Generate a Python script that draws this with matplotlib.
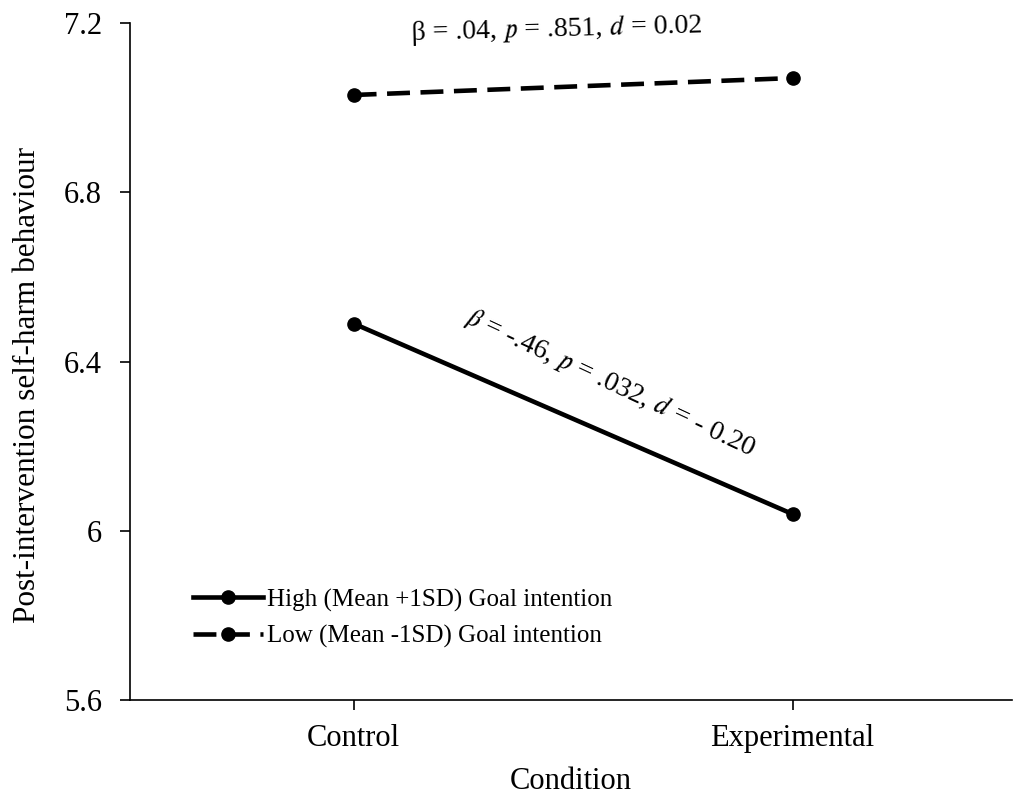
import numpy as np
import matplotlib.pyplot as plt

plt.rcParams["font.family"] = ["Liberation Serif", "STIXGeneral", "DejaVu Serif"]

conditions = ["Control", "Experimental"]
high_goal = [6.49, 6.04]
low_goal = [7.03, 7.07]
series_labels = ["High (Mean +1SD) Goal intention", "Low (Mean -1SD) Goal intention"]
y_ticks = [5.6, 6.0, 6.4, 6.8, 7.2]
y_ticklabels = ["5.6", "6", "6.4", "6.8", "7.2"]
# math italic p, d and beta (U+1D45D, U+1D451, U+1D6FD)
low_note = "\u03b2 = .04, \U0001D45D = .851, \U0001D451 = 0.02"
high_note = "\U0001D6FD = -.46, \U0001D45D = .032, \U0001D451 = - 0.20"

fig = plt.figure(figsize=(10.14, 7.94), dpi=100)
ax = fig.add_axes([0.128, 0.118, 0.87, 0.853])

x = np.arange(len(conditions))
ax.plot(x, high_goal, color="black", lw=3.3, marker="o", ms=9.5,
        label=series_labels[0])
ax.plot(x, low_goal, color="black", lw=3.3, marker="o", ms=9.5,
        dashes=(5, 2.3), label=series_labels[1])

ax.set_xlim(-0.51, 1.5)
ax.set_ylim(5.6, 7.2)
ax.set_xticks(x)
ax.set_xticklabels(conditions, fontsize=22)
ax.set_yticks(y_ticks)
ax.set_yticklabels(y_ticklabels, fontsize=22)
ax.tick_params(axis="both", direction="out", length=7, width=1.2)
ax.tick_params(axis="y", pad=13)
ax.tick_params(axis="x", pad=10)

for s in ["top", "right"]:
    ax.spines[s].set_visible(False)
for s in ["left", "bottom"]:
    ax.spines[s].set_linewidth(1.2)

ax.set_xlabel("Condition", fontsize=22)
ax.set_ylabel("Post-intervention self-harm behaviour", fontsize=22.5)
ax.xaxis.set_label_coords(0.5, -0.098)
ax.yaxis.set_label_coords(-0.1, 0.465)

ax.text(0.463, 7.184, low_note, fontsize=20, ha="center", va="center", rotation=1.5)
ax.text(0.585, 6.35, high_note, fontsize=20, ha="center", va="center", rotation=-25)

leg = ax.legend(loc="upper left", bbox_to_anchor=(0.072, 0.165), frameon=False,
                fontsize=18, handlelength=2.8, handletextpad=0.15, labelspacing=0.55,
                borderpad=0, borderaxespad=0)

fig.savefig("out.png", dpi=100)
